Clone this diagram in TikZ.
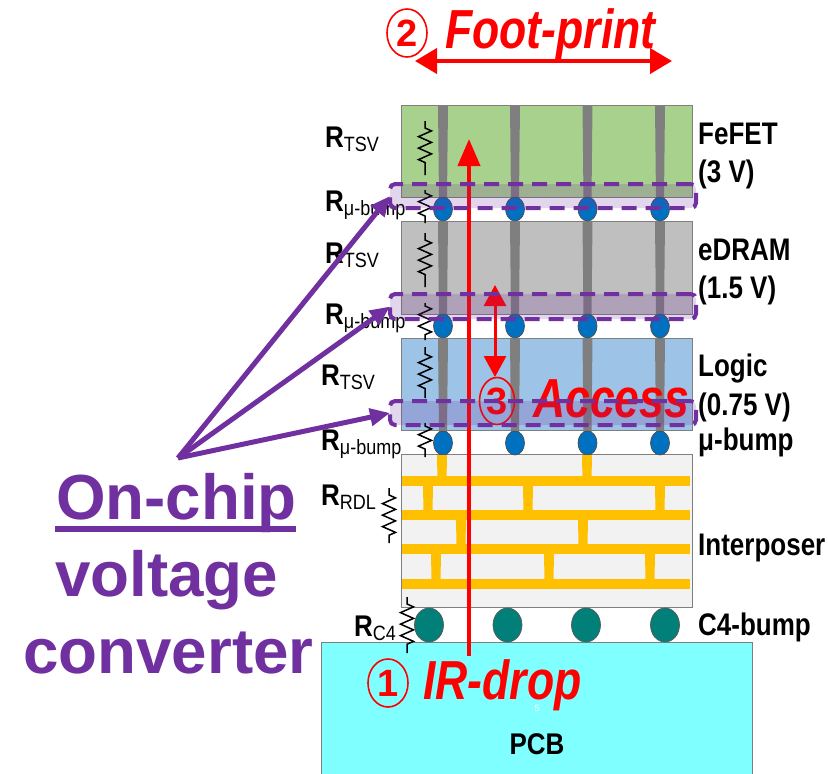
\documentclass[tikz,border=0pt]{standalone}
\usepackage{graphicx}
\usepackage{fontspec}
\setmainfont{Liberation Sans}
\usetikzlibrary{arrows.meta,shapes.geometric,decorations.pathmorphing}
\definecolor{purp}{HTML}{7030A0}
\definecolor{gold}{HTML}{FFC000}
\definecolor{bluebump}{HTML}{0070C0}
\definecolor{teal4}{HTML}{008078}
\definecolor{edgegray}{HTML}{7F7F7F}
\definecolor{pcbcyan}{HTML}{7FFFFF}
\newcommand{\fs}[1]{\fontsize{#1}{#1}\selectfont}
\newcommand{\Rlab}[1]{\scalebox{1}[1.15]{{\fs{26}\textbf{R}}{\fs{18}\raisebox{-4pt}{#1}}}}
\newcommand{\bigred}[1]{\scalebox{.81}[1]{\fs{55}\bfseries\itshape #1}}
\newcommand{\tall}[1]{\scalebox{1}[1.2]{\fs{26}\bfseries #1}}
\tikzset{
  layerbox/.style={draw=edgegray,line width=1pt,minimum height=#1,inner sep=0pt,outer sep=0pt,anchor=north west,minimum width=291pt},
  tsvfill/.style={fill=edgegray,draw=none},
  ubump/.style={ellipse,draw=black!70,line width=.7pt,fill=bluebump,minimum width=19pt,minimum height=24pt,inner sep=0pt},
  cbump/.style={ellipse,draw=black!65,line width=.7pt,fill=teal4,minimum width=29pt,minimum height=34pt,inner sep=0pt},
  rdlh/.style={draw=none,fill=gold},
  resist/.style={draw=black,line width=1.5pt,decorate,decoration={zigzag,segment length=11.5pt,amplitude=6.5pt,pre length=#1,post length=#1}},
  sidelabel/.style={anchor=base west,inner sep=0pt,text=black},
  rlabel/.style={anchor=base west,inner sep=0pt,text=black},
  convtext/.style={font=\fs{63.7}\bfseries,text=purp,inner sep=0pt,anchor=base west},
  dashbox/.style={draw=purp,line width=4pt,dash pattern=on 15pt off 9pt,rounded corners=5pt,fill=purp,fill opacity=.2,draw opacity=1,minimum width=306pt,inner sep=0pt,outer sep=0pt},
  purparrow/.style={draw=purp,line width=5pt,-{Triangle[length=20pt,width=17pt]}},
  redtext/.style={text=red,inner sep=0pt,anchor=base west},
  redcirc/.style={ellipse,draw=red,line width=1.6pt,text=red,inner sep=0pt,font=\fs{38}\bfseries}
}
\begin{document}
\begin{tikzpicture}[x=1pt,y=-1pt]
\useasboundingbox (0,0) rectangle (828,774);
% PCB
\node[draw=edgegray,line width=1pt,fill=pcbcyan,inner sep=0pt,outer sep=0pt,anchor=north west,minimum width=431pt,minimum height=134pt] (pcb) at (321.5,642) {};
\node[font=\fs{26}\bfseries,inner sep=0pt] (pcblabel) at (537,744) {\scalebox{1}[1.15]{PCB}};
\node[font=\fs{9},text=white,inner sep=0pt] (pagenum) at (537,708) {5};
% layers
\node[layerbox=92pt,fill={rgb,255:red,169;green,209;blue,142}] (fefet) at (401,105) {};
\node[layerbox=93pt,fill={rgb,255:red,191;green,191;blue,191}] (edram) at (401,221) {};
\node[layerbox=92pt,fill={rgb,255:red,157;green,195;blue,230}] (logic) at (401,338) {};
\node[layerbox=153pt,fill={rgb,255:red,242;green,242;blue,242}] (interposer) at (401,454) {};
% TSVs
\foreach \x in {443,515,587.5,660}{
  \foreach \t/\b in {105/199,221/316,338/432}{
    \fill[tsvfill] (\x-5,\t) -- (\x+5,\t) -- (\x+4,\b) -- (\x-4,\b) -- cycle;
  }
}
% micro bumps
\foreach \n/\x in {a/443,b/515,c/587.5,d/660}{
  \node[ubump] (ua\n) at (\x,209) {};
  \node[ubump] (ub\n) at (\x,326) {};
  \node[ubump] (uc\n) at (\x,443) {};
}
% C4 bumps
\foreach \n/\x in {a/429,b/507.5,c/586,d/665}{
  \node[cbump] (c4\n) at (\x,625) {};
}
% RDL
\foreach \y in {481,515,549,584}{
  \fill[rdlh] (402,\y-4.7) rectangle (690,\y+4.7);
}
\foreach \x in {442,587}{\fill[rdlh] (\x-5,455) -- (\x+5,455) -- (\x+4.5,481) -- (\x-4.5,481) -- cycle;}
\foreach \x in {428,528,660}{\fill[rdlh] (\x-5,481) -- (\x+5,481) -- (\x+4.5,515) -- (\x-4.5,515) -- cycle;}
\foreach \x in {461,583}{\fill[rdlh] (\x-5,515) -- (\x+5,515) -- (\x+4.5,549) -- (\x-4.5,549) -- cycle;}
\foreach \x in {436,549,650}{\fill[rdlh] (\x-5,549) -- (\x+5,549) -- (\x+4.5,584) -- (\x-4.5,584) -- cycle;}
% resistors
\draw[resist=7pt] (425,121) -- (425,175);
\draw[resist=7pt] (425,233) -- (425,287);
\draw[resist=7pt] (425,347) -- (425,398);
\draw[resist=3pt] (425,190) -- (425,223);
\draw[resist=3pt] (425,303) -- (425,340);
\draw[resist=3pt] (425,423) -- (425,457);
\draw[resist=7pt] (389,488) -- (389,543);
\draw[resist=7pt] (407,597) -- (407,653);
% R labels
\node[rlabel] (r1) at (325,147) {\Rlab{TSV}};
\node[rlabel] (r2) at (325,211) {\Rlab{μ-bump}};
\node[rlabel] (r3) at (325,263) {\Rlab{TSV}};
\node[rlabel] (r4) at (325,324) {\Rlab{μ-bump}};
\node[rlabel] (r5) at (321,385) {\Rlab{TSV}};
\node[rlabel] (r6) at (321,450) {\Rlab{μ-bump}};
\node[rlabel] (r7) at (321,505) {\Rlab{RDL}};
\node[rlabel] (r8) at (354,636) {\Rlab{C4}};
% side labels
\node[sidelabel] (l1) at (698,144) {\tall{FeFET}};
\node[sidelabel] (l2) at (698,182) {\tall{(3 V)}};
\node[sidelabel] (l3) at (698,260) {\tall{eDRAM}};
\node[sidelabel] (l4) at (698,298) {\tall{(1.5 V)}};
\node[sidelabel] (l5) at (698,376) {\tall{Logic}};
\node[sidelabel] (l6) at (698,415) {\tall{(0.75 V)}};
\node[sidelabel] (l7) at (698,450) {\tall{μ-bump}};
\node[sidelabel] (l8) at (698,555) {\tall{Interposer}};
\node[sidelabel] (l9) at (698,635) {\tall{C4-bump}};
% red annotations
\coordinate (irfoot) at (469,656);
\coordinate (irtip) at (469,139);
\draw[red,line width=4pt,-{Triangle[length=27pt,width=22pt]}] (irfoot) -- (irtip);
\coordinate (acctop) at (495,285);
\coordinate (accbot) at (495,377);
\draw[red,line width=3pt,{Triangle[length=21pt,width=22pt]}-{Triangle[length=21pt,width=22pt]}] (accbot) -- (acctop);
\node[redcirc,minimum width=35pt,minimum height=47pt] (c3) at (497,401) {3};
\node[redtext] (access) at (533,417) {\bigred{Access}};
\node[redtext] (irdrop) at (423,699) {\bigred{IR-drop}};
\node[redcirc,minimum width=40pt,minimum height=48pt] (c1) at (388,683) {1};
\node[redtext] (footprint) at (445,48) {\bigred{Foot-print}};
\node[redcirc,minimum width=40pt,minimum height=48pt] (c2) at (407,33) {2};
\coordinate (fpl) at (415,61);
\coordinate (fpr) at (672,61);
\draw[red,line width=4pt,{Triangle[length=22pt,width=25pt]}-{Triangle[length=22pt,width=25pt]}] (fpl) -- (fpr);
% dashed boxes
\node[dashbox,minimum height=24pt] (box1) at (543,196) {};
\node[dashbox,minimum height=25pt] (box2) at (543,306.5) {};
\node[dashbox,minimum height=24pt] (box3) at (543,413) {};
% converter text
\node[convtext] (on) at (56,519) {On-chip};
\coordinate (ulL) at (55,529);
\coordinate (ulR) at (296,529);
\draw[draw=purp,line width=5.5pt] (ulL) -- (ulR);
\node[convtext] (volt) at (55,596) {voltage};
\node[convtext] (conv) at (23,673) {converter};
\coordinate (src) at (178,458);
\draw[purparrow] (src) -- (box1.west);
\draw[purparrow] (src) -- (box2.west);
\draw[purparrow] (src) -- (box3.west);
\end{tikzpicture}
\end{document}
